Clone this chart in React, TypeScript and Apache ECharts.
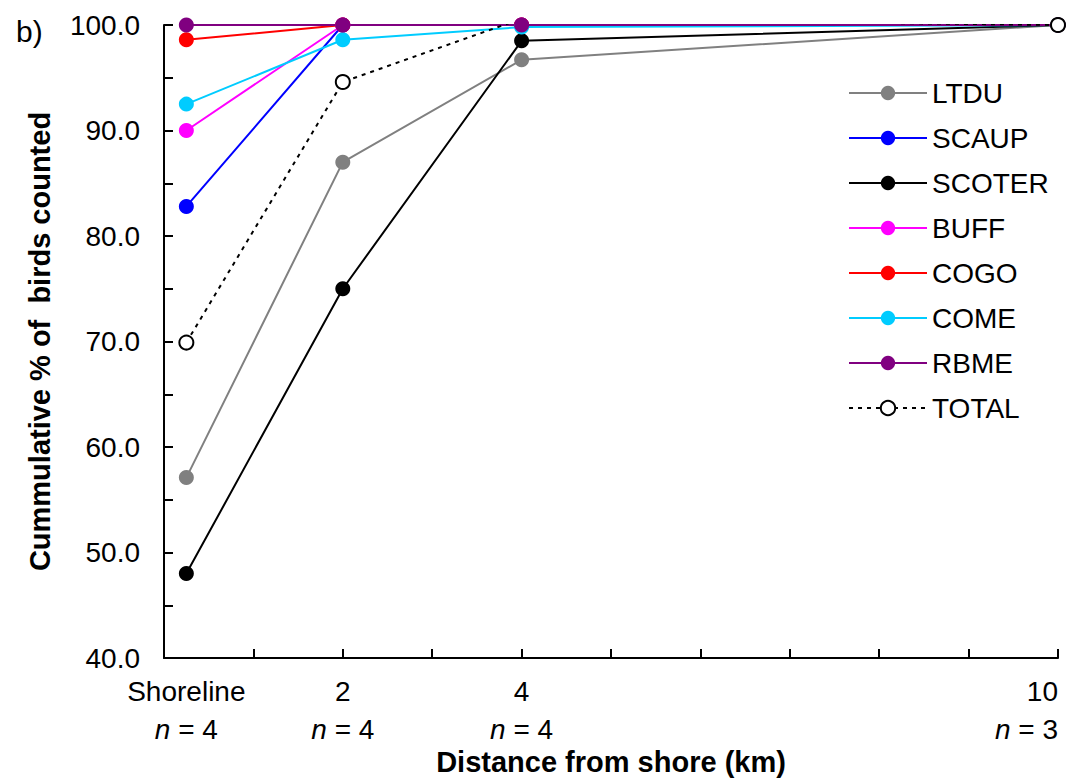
import React, { useEffect, useRef } from "react";
import * as echarts from "echarts";

const X_POSITIONS = [0.25, 2, 4, 10];
const X_LABELS = ["Shoreline", "2", "4", "10"];
const N_COUNTS = [4, 4, 4, 3];

const LTDU = [57.1, 87.0, 96.7, 100];
const SCAUP = [82.8, 100, 100, 100];
const SCOTER = [48.0, 75.0, 98.5, 100];
const BUFF = [90.0, 100, 100, 100];
const COGO = [98.6, 100, 100, 100];
const COME = [92.5, 98.6, 99.8, 100];
const RBME = [100, 100, 100, 100];
const TOTAL = [69.9, 94.6, 100.6, 100];

const SERIES = [
  { name: "LTDU", data: LTDU, color: "#808080" },
  { name: "SCAUP", data: SCAUP, color: "#0000ff" },
  { name: "SCOTER", data: SCOTER, color: "#000000" },
  { name: "BUFF", data: BUFF, color: "#ff00ff" },
  { name: "COGO", data: COGO, color: "#ff0000" },
  { name: "COME", data: COME, color: "#00ccff" },
  { name: "RBME", data: RBME, color: "#800080" },
];

const FONT = "'Liberation Sans', Arial, sans-serif";

export default function App() {
  const ref = useRef<HTMLDivElement>(null);
  useEffect(() => {
    if (!ref.current) return;
    const chart = echarts.init(ref.current, null, { renderer: "svg" });
    const lineSeries: any[] = SERIES.map((s) => ({
      name: s.name,
      type: "line",
      data: s.data.map((v, i) => [X_POSITIONS[i], v]),
      symbol: "circle",
      symbolSize: 15,
      lineStyle: { color: s.color, width: 2 },
      itemStyle: { color: s.color },
      emphasis: { disabled: true },
    }));
    lineSeries.push({
      name: "TOTAL",
      type: "line",
      data: TOTAL.map((v, i) =>
        v > 100 ? { value: [X_POSITIONS[i], v], symbol: "none" } : [X_POSITIONS[i], v]
      ),
      symbol: "emptyCircle",
      symbolSize: 14,
      lineStyle: { color: "#000", width: 2, type: [4, 5] },
      itemStyle: { color: "#000", borderColor: "#000", borderWidth: 2.5 },
      emphasis: { disabled: true },
    });
    chart.setOption({
      animation: false,
      textStyle: { fontFamily: FONT },
      title: {
        text: "b)",
        left: 11,
        top: 11,
        textStyle: { fontSize: 30, fontWeight: "normal", color: "#000", fontFamily: FONT },
      },
      grid: { left: 164, right: 12, top: 25, bottom: 125, containLabel: false },
      legend: {
        orient: "vertical",
        left: 843,
        top: 73,
        itemWidth: 78,
        itemHeight: 18,
        itemGap: 15,
        textStyle: { fontSize: 28, color: "#000", lineHeight: 30, fontFamily: FONT },
        data: ["LTDU", "SCAUP", "SCOTER", "BUFF", "COGO", "COME", "RBME", "TOTAL"],
      },
      xAxis: {
        type: "value",
        min: 0,
        max: 10,
        interval: 1,
        name: "Distance from shore (km)",
        nameLocation: "middle",
        nameGap: 84,
        nameTextStyle: { fontSize: 29, fontWeight: "bold", color: "#000", fontFamily: FONT },
        axisLine: { show: true, lineStyle: { color: "#000", width: 2 } },
        axisTick: {
          show: true,
          inside: true,
          length: 9,
          lineStyle: { color: "#000", width: 2 },
          customValues: [0, 1, 2, 3, 4, 5, 6, 7, 8, 9, 10],
        },
        splitLine: { show: false },
        axisLabel: {
          customValues: X_POSITIONS,
          margin: 14,
          alignMaxLabel: "right",
          color: "#000",
          formatter: (v: number) => {
            const i = X_POSITIONS.indexOf(v);
            if (i < 0) return "";
            return `{t|${X_LABELS[i]}}\n{i|n}{t| = ${N_COUNTS[i]}}`;
          },
          rich: {
            t: { fontSize: 28, lineHeight: 38, color: "#000", fontFamily: FONT },
            i: { fontSize: 28, lineHeight: 38, color: "#000", fontStyle: "italic", fontFamily: FONT },
          },
        },
      },
      yAxis: {
        type: "value",
        min: 40,
        max: 100,
        interval: 5,
        name: "Cummulative % of  birds counted",
        nameLocation: "middle",
        nameGap: 110,
        nameTextStyle: { fontSize: 29, fontWeight: "bold", color: "#000", fontFamily: FONT },
        axisLine: { show: true, lineStyle: { color: "#000", width: 2 } },
        axisTick: { show: true, inside: true, length: 9, lineStyle: { color: "#000", width: 2 } },
        splitLine: { show: false },
        axisLabel: {
          margin: 24,
          fontSize: 28,
          color: "#000",
          fontFamily: FONT,
          formatter: (v: number) => (v % 10 === 0 ? v.toFixed(1) : ""),
        },
      },
      series: lineSeries,
    });
    return () => chart.dispose();
  }, []);
  return (
    <div
      ref={ref}
      style={{ position: "absolute", left: 0, top: 0, width: 1070, height: 783, background: "#fff" }}
    />
  );
}
